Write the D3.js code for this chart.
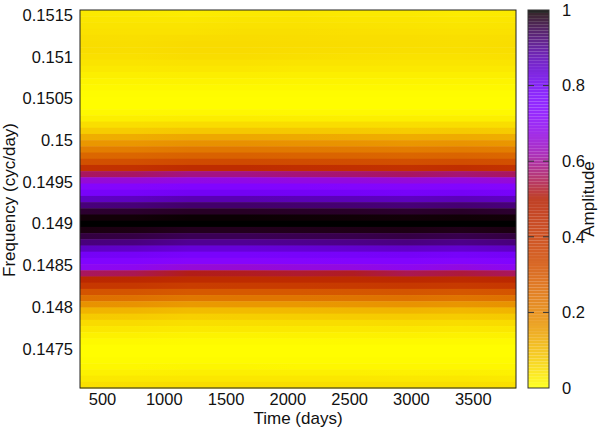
<!DOCTYPE html>
<html>
<head>
<meta charset="utf-8">
<script src="https://d3js.org/d3.v7.min.js"></script>
<style>
  body { margin: 0; background: #fff; }
  text { font-family: "Liberation Sans", sans-serif; font-size: 16.5px; fill: #111; }
  .axisText { font-size: 17px; }
</style>
</head>
<body>
<div class="chart"></div>
<script>
var svgWidth = 600;
var svgHeight = 430;

var margin = { top: 10, left: 80, bottom: 388, right: 516 };
var barLeft = 528;
var barRight = 549;

var timeTicks = [500, 1000, 1500, 2000, 2500, 3000, 3500];
var freqTicks = [0.1475, 0.148, 0.1485, 0.149, 0.1495, 0.15, 0.1505, 0.151, 0.1515];
var ampTicks = [0, 0.2, 0.4, 0.6, 0.8, 1];

// sampled epochs, one column of the table below for each
var times = [322, 763, 1204, 1645, 2086, 2527, 2968, 3409, 3850];

// row centres, top of the picture first
var frequencies = [
  0.15152, 0.15145, 0.15137, 0.15130, 0.15122, 0.15115, 0.15108, 0.15100, 0.15093, 0.15085,
  0.15078, 0.15071, 0.15063, 0.15056, 0.15048, 0.15041, 0.15034, 0.15026, 0.15019, 0.15011,
  0.15004, 0.14997, 0.14989, 0.14982, 0.14974, 0.14967, 0.14960, 0.14952, 0.14945, 0.14937,
  0.14930, 0.14923, 0.14915, 0.14908, 0.14900, 0.14893, 0.14886, 0.14878, 0.14871, 0.14863,
  0.14856, 0.14849, 0.14841, 0.14834, 0.14826, 0.14819, 0.14812, 0.14804, 0.14797, 0.14789,
  0.14782, 0.14775, 0.14767, 0.14760, 0.14752, 0.14745, 0.14738, 0.14730, 0.14723, 0.14715,
  0.14708
];

// amplitude: one row per frequency, one value per time
var amplitudes = [
  [.030, .028, .026, .030, .032, .030, .030, .027, .030],
  [.034, .032, .031, .035, .036, .034, .034, .031, .034],
  [.037, .036, .036, .040, .040, .038, .037, .035, .037],
  [.041, .040, .040, .044, .043, .042, .041, .040, .041],
  [.045, .044, .046, .048, .047, .045, .045, .043, .045],
  [.046, .045, .049, .050, .048, .046, .045, .044, .046],
  [.046, .045, .049, .050, .047, .045, .044, .043, .045],
  [.042, .042, .046, .046, .043, .041, .040, .040, .042],
  [.037, .037, .040, .039, .037, .036, .035, .035, .037],
  [.030, .030, .032, .032, .030, .030, .029, .029, .030],
  [.022, .022, .023, .023, .022, .022, .021, .021, .022],
  [.015, .015, .016, .016, .015, .015, .015, .015, .015],
  [.009, .009, .009, .009, .009, .009, .009, .009, .009],
  [.004, .004, .004, .004, .004, .004, .004, .004, .004],
  [.002, .002, .002, .002, .002, .002, .002, .002, .002],
  [.003, .003, .003, .003, .003, .003, .003, .003, .003],
  [.009, .009, .010, .010, .009, .009, .009, .009, .009],
  [.022, .022, .024, .024, .023, .022, .022, .022, .022],
  [.045, .045, .048, .048, .047, .046, .045, .046, .045],
  [.072, .072, .078, .078, .076, .074, .072, .075, .072],
  [.120, .121, .130, .130, .126, .124, .121, .125, .120],
  [.160, .161, .170, .171, .167, .165, .161, .166, .160],
  [.210, .211, .222, .222, .218, .215, .211, .216, .210],
  [.260, .262, .274, .275, .271, .268, .262, .269, .260],
  [.320, .322, .337, .338, .333, .329, .322, .330, .320],
  [.420, .423, .442, .445, .436, .430, .423, .433, .420],
  [.560, .564, .586, .588, .578, .572, .563, .575, .560],
  [.660, .663, .678, .680, .674, .670, .663, .672, .660],
  [.730, .732, .744, .745, .741, .738, .732, .739, .730],
  [.780, .782, .796, .796, .792, .788, .782, .789, .780],
  [.860, .863, .876, .876, .872, .869, .863, .870, .860],
  [.920, .922, .932, .932, .929, .926, .922, .927, .920],
  [.970, .971, .977, .977, .975, .974, .971, .975, .970],
  [.995, .995, .998, .998, .997, .996, .995, .996, .995],
  [1.00, 1.00, 1.00, 1.00, 1.00, 1.00, 1.00, 1.00, 1.00],
  [.990, .988, .982, .982, .984, .986, .988, .985, .990],
  [.960, .957, .946, .946, .949, .952, .957, .951, .960],
  [.920, .917, .902, .902, .906, .911, .917, .910, .920],
  [.860, .856, .838, .838, .843, .849, .856, .848, .860],
  [.790, .787, .775, .775, .778, .782, .787, .781, .790],
  [.750, .746, .730, .730, .735, .741, .746, .739, .750],
  [.700, .693, .660, .655, .668, .672, .693, .670, .700],
  [.560, .553, .515, .520, .530, .522, .553, .538, .560],
  [.460, .456, .442, .444, .446, .448, .456, .449, .460],
  [.400, .396, .380, .382, .385, .390, .396, .389, .400],
  [.310, .307, .295, .297, .299, .302, .307, .301, .310],
  [.240, .237, .225, .228, .228, .232, .237, .231, .240],
  [.170, .167, .155, .158, .159, .163, .167, .162, .170],
  [.110, .108, .096, .099, .101, .104, .108, .103, .110],
  [.075, .073, .065, .067, .069, .071, .073, .071, .075],
  [.050, .049, .043, .045, .046, .047, .049, .047, .050],
  [.032, .031, .028, .029, .030, .030, .031, .030, .032],
  [.018, .018, .016, .016, .017, .017, .018, .017, .018],
  [.008, .008, .007, .007, .007, .008, .008, .008, .008],
  [.003, .003, .003, .003, .003, .003, .003, .003, .003],
  [.002, .002, .002, .002, .002, .002, .002, .002, .002],
  [.005, .005, .005, .005, .005, .005, .005, .005, .005],
  [.011, .011, .012, .012, .011, .011, .011, .011, .011],
  [.019, .019, .021, .021, .020, .020, .019, .020, .019],
  [.030, .031, .033, .033, .032, .032, .031, .032, .030],
  [.042, .043, .046, .046, .045, .044, .043, .044, .042]
];

// gnuplot rgbformulae 7,5,15 run backwards, so 0 is yellow and 1 is black
function palette(a) {
  var g = 1 - a;
  var r = Math.sqrt(g);
  var gr = g * g * g;
  var b = Math.max(0, Math.sin(2 * Math.PI * g));
  return d3.rgb(r * 255, gr * 255, b * 255).formatHex();
}

var x = d3.scaleLinear().domain([322, 3850]).range([margin.left, margin.right]);
var y = d3.scaleLinear().domain([0.14703, 0.15156]).range([margin.bottom, margin.top]);
var rowBand = d3.scaleBand().domain(frequencies).range([margin.top, margin.bottom]);
var barScale = d3.scaleLinear().domain([0, 1]).range([margin.bottom, margin.top]);

var svg = d3.select(".chart")
  .append("svg")
  .attr("width", svgWidth)
  .attr("height", svgHeight)
  .style("display", "block");

// each row is one gradient running through its values over time
var defs = svg.append("defs");
frequencies.forEach(function(f, i) {
  var grad = defs.append("linearGradient")
    .attr("id", "row" + i)
    .attr("gradientUnits", "userSpaceOnUse")
    .attr("x1", x(times[0]))
    .attr("x2", x(times[times.length - 1]))
    .attr("y1", 0)
    .attr("y2", 0);
  times.forEach(function(t, j) {
    grad.append("stop")
      .attr("offset", (x(t) - x(times[0])) / (x(times[times.length - 1]) - x(times[0])))
      .attr("stop-color", palette(amplitudes[i][j]));
  });
});

svg.append("g").selectAll("rect")
  .data(frequencies)
  .enter()
  .append("rect")
  .attr("x", margin.left)
  .attr("y", d => rowBand(d))
  .attr("width", margin.right - margin.left)
  .attr("height", rowBand.bandwidth() + 0.5)
  .attr("fill", (d, i) => `url(#row${i})`);

svg.append("rect")
  .attr("x", margin.left)
  .attr("y", margin.top)
  .attr("width", margin.right - margin.left)
  .attr("height", margin.bottom - margin.top)
  .attr("fill", "none")
  .attr("stroke", "#222");

// axes, the gnuplot ticks are hidden under the map
var bottomAxis = d3.axisBottom(x).tickValues(timeTicks).tickSize(0).tickPadding(5).tickFormat(d3.format("d"));
var leftAxis = d3.axisLeft(y).tickValues(freqTicks).tickSize(0).tickPadding(7).tickFormat(d => String(d));

svg.append("g")
  .attr("transform", `translate(0, ${margin.bottom})`)
  .call(bottomAxis)
  .call(g => g.select(".domain").remove());

svg.append("g")
  .attr("transform", `translate(${margin.left}, 0)`)
  .call(leftAxis)
  .call(g => g.select(".domain").remove());

// colour box
var barLevels = d3.range(128);
var barBand = d3.scaleBand().domain(barLevels).range([margin.bottom, margin.top]);
svg.append("g").selectAll("rect")
  .data(barLevels)
  .enter()
  .append("rect")
  .attr("x", barLeft)
  .attr("y", d => barBand(d))
  .attr("width", barRight - barLeft)
  .attr("height", barBand.bandwidth())
  .attr("fill", d => palette(d / 127))
  .attr("opacity", 0.85);

svg.append("rect")
  .attr("x", barLeft)
  .attr("y", margin.top)
  .attr("width", barRight - barLeft)
  .attr("height", margin.bottom - margin.top)
  .attr("fill", "none")
  .attr("stroke", "#333");

var barAxis = d3.axisRight(barScale).tickValues(ampTicks).tickSize(0).tickPadding(13).tickFormat(d => String(d));
svg.append("g")
  .attr("transform", `translate(${barRight}, 0)`)
  .call(barAxis)
  .call(g => g.select(".domain").remove());

svg.append("g").selectAll("path")
  .data(ampTicks.slice(1, -1))
  .enter()
  .append("path")
  .attr("d", d => `M${barLeft},${barScale(d)}h6M${barRight - 6},${barScale(d)}h6`)
  .attr("stroke", "#333");

// Create axes labels
svg.append("text")
  .attr("class", "axisText")
  .attr("x", 298)
  .attr("y", 424)
  .attr("text-anchor", "middle")
  .text("Time (days)");

svg.append("text")
  .attr("class", "axisText")
  .attr("transform", "translate(15, 200) rotate(-90)")
  .attr("text-anchor", "middle")
  .text("Frequency (cyc/day)");

svg.append("text")
  .attr("class", "axisText")
  .attr("transform", "translate(594, 199) rotate(-90)")
  .attr("text-anchor", "middle")
  .text("Amplitude");
</script>
</body>
</html>
